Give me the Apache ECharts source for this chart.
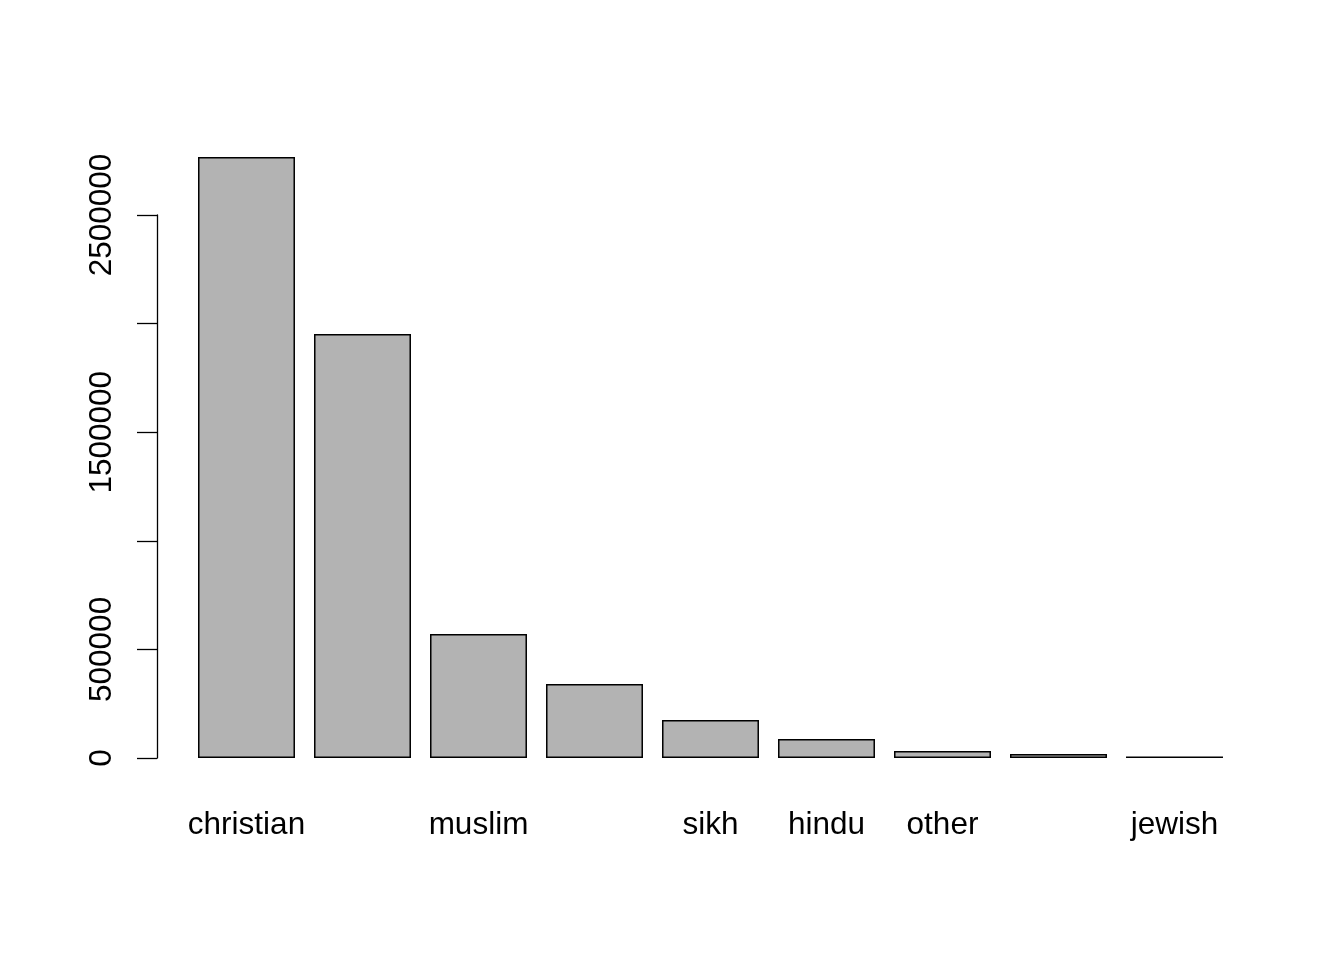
<!DOCTYPE html>
<html>
<head>
<meta charset="utf-8">
<script src="https://cdn.jsdelivr.net/npm/echarts@6/dist/echarts.min.js"></script>
<style>
html,body{margin:0;padding:0;background:#fff;}
#chart{width:1344px;height:960px;}
</style>
</head>
<body>
<div id="chart"></div>
<script>
// Category labels as shown (hidden labels in the original are blank)
var categories = ["christian", "", "muslim", "", "sikh", "hindu", "other", "", "jewish"];
// Bar heights
var values = [2767000, 1952000, 571000, 341000, 175000, 87500, 32000, 18000, 7000];
// Y tick labels (R drops overlapping ones)
var yTickLabels = ["0", "500000", "", "1500000", "", "2500000"];

var chart = echarts.init(document.getElementById('chart'), null, {renderer: 'canvas'});
var font = '"Liberation Sans", Arial, Helvetica, sans-serif';
chart.setOption({
  animation: false,
  backgroundColor: '#ffffff',
  grid: {left: 188.5, right: 111.5, top: 215, bottom: 202, containLabel: false},
  xAxis: {
    type: 'category',
    data: categories,
    axisLine: {show: false},
    axisTick: {show: false},
    splitLine: {show: false},
    axisLabel: {interval: 0, color: '#000', fontSize: 31.5, fontFamily: font, margin: 51}
  },
  yAxis: {
    type: 'value',
    min: 0,
    max: 2500000,
    interval: 500000,
    offset: 31.5,
    axisLine: {show: true, lineStyle: {color: '#000', width: 1.3}},
    axisTick: {show: true, length: 20, lineStyle: {color: '#000', width: 1.3}},
    splitLine: {show: false},
    axisLabel: {
      rotate: 90, color: '#000', fontSize: 31.5, fontFamily: font, margin: 39,
      formatter: function (v, i) { return yTickLabels[i] !== undefined ? yTickLabels[i] : ''; }
    }
  },
  series: [{
    type: 'bar',
    data: values,
    clip: false,
    barCategoryGap: '16.4%',
    itemStyle: {color: '#b3b3b3', borderColor: '#000', borderWidth: 1.5},
    emphasis: {disabled: true}
  }]
});
</script>
</body>
</html>
